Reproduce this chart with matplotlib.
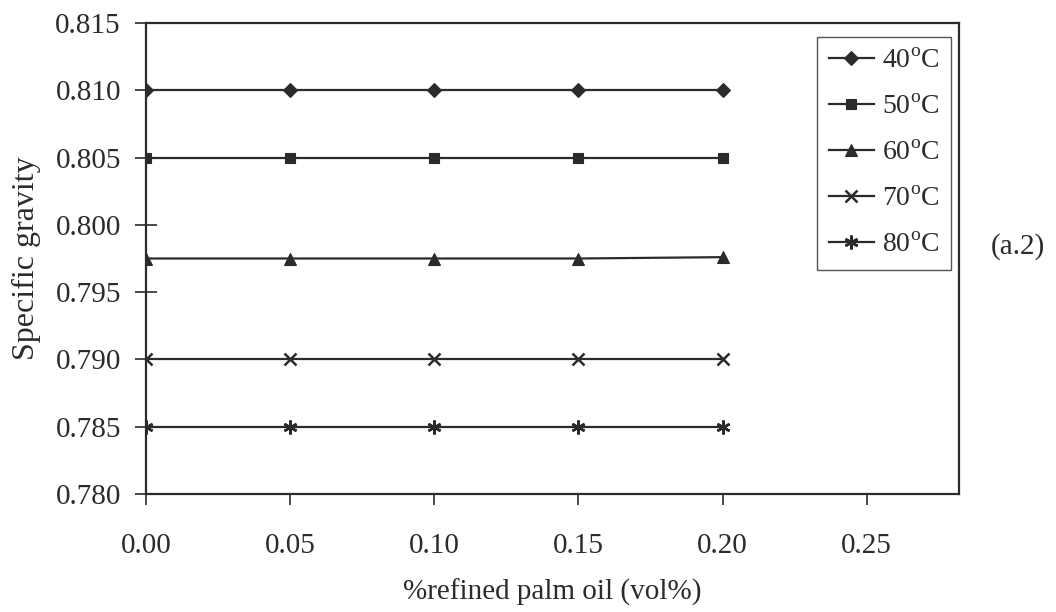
import numpy as np
import matplotlib.pyplot as plt

plt.rcParams['font.family'] = ['Liberation Serif', 'DejaVu Serif']
plt.rcParams['mathtext.fontset'] = 'custom'
plt.rcParams['mathtext.rm'] = 'Liberation Serif'

# %refined palm oil (vol%)
palm_oil = [0.00, 0.05, 0.10, 0.15, 0.20]

# specific gravity per temperature
sg_40 = [0.8100, 0.8100, 0.8100, 0.8100, 0.8100]
sg_50 = [0.8050, 0.8050, 0.8050, 0.8050, 0.8050]
sg_60 = [0.7975, 0.7975, 0.7975, 0.7975, 0.7976]
sg_70 = [0.7900, 0.7900, 0.7900, 0.7900, 0.7900]
sg_80 = [0.7850, 0.7850, 0.7850, 0.7850, 0.7850]

labels = [r'40$^{\mathrm{o}}$C', r'50$^{\mathrm{o}}$C', r'60$^{\mathrm{o}}$C',
          r'70$^{\mathrm{o}}$C', r'80$^{\mathrm{o}}$C']
markers = ['D', 's', '^', 'x', (6, 2, 0)]
sizes = [7, 7, 8, 9, 10]

ink = '#2b2b2b'

fig = plt.figure(figsize=(10.56, 6.12), dpi=100)
ax = fig.add_axes([146 / 1056, 1 - 494 / 612, (959 - 146) / 1056, (494 - 23) / 612])

for values, label, marker, size in zip([sg_40, sg_50, sg_60, sg_70, sg_80], labels, markers, sizes):
    ax.plot(palm_oil, values, color=ink, linewidth=1.6, marker=marker, markersize=size,
            markeredgewidth=1.8 if marker in ('x', (6, 2, 0)) else 0.8,
            markerfacecolor=ink, markeredgecolor=ink, label=label)

ax.set_xlim(0, 0.282)
ax.set_ylim(0.780, 0.815)
ax.set_xticks(np.arange(0, 0.26, 0.05))
ax.set_yticks(np.arange(0.780, 0.8151, 0.005))
ax.set_xticklabels(['0.00', '0.05', '0.10', '0.15', '0.20', '0.25'])
ax.set_yticklabels(['0.780', '0.785', '0.790', '0.795', '0.800', '0.805', '0.810', '0.815'])

ax.tick_params(axis='x', direction='out', length=8, width=1.2, colors=ink, labelsize=21, pad=20)
ax.tick_params(axis='y', direction='inout', length=16, width=1.2, colors=ink, labelsize=21, pad=10)
for side in ax.spines:
    ax.spines[side].set_color(ink)
    ax.spines[side].set_linewidth(1.6)

ax.set_xlabel('%refined palm oil (vol%)', fontsize=21, color=ink, labelpad=14)
ax.set_ylabel('Specific gravity', fontsize=23, color=ink, labelpad=10)

leg = ax.legend(loc='upper right', bbox_to_anchor=(951 / 1056, 1 - 37 / 612),
                bbox_transform=fig.transFigure, fontsize=20, frameon=True, fancybox=False,
                labelspacing=0.74, handlelength=1.6, handletextpad=0.3, borderpad=0.42,
                borderaxespad=0)
leg.get_frame().set_edgecolor(ink)
leg.get_frame().set_linewidth(1.0)
for t in leg.get_texts():
    t.set_color(ink)

fig.text(1018 / 1056, 1 - 247 / 612, '(a.2)', fontsize=21, color=ink, ha='center', va='center')

fig.savefig('out.png', dpi=100, facecolor='white')
